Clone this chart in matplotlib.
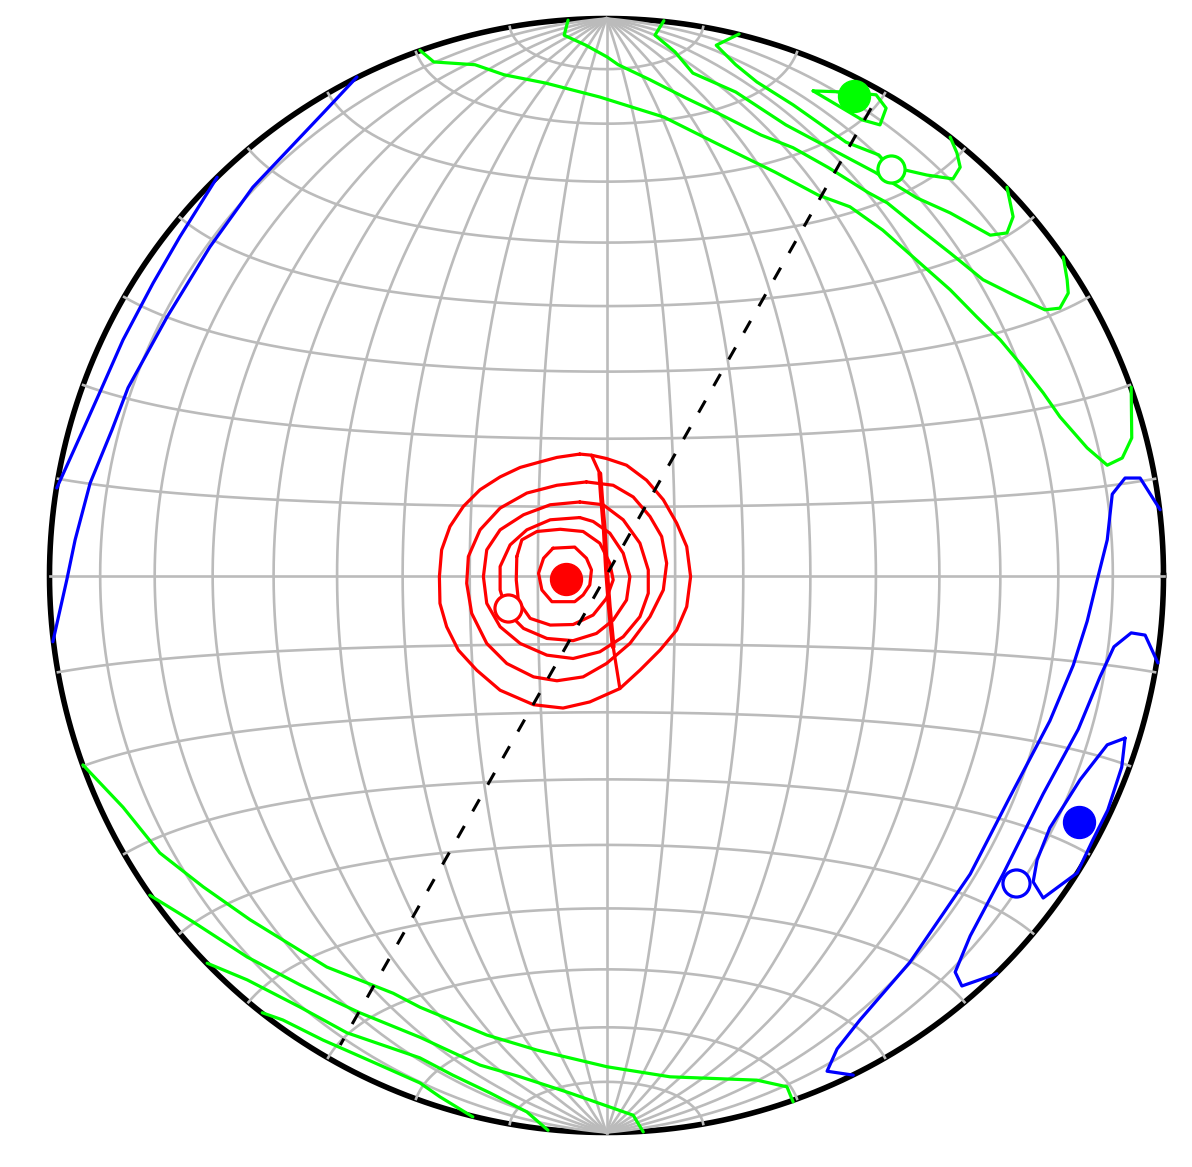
import numpy as np
import matplotlib.pyplot as plt

# All positions are in net coordinates (unit circle, equal-area projection)

# red cluster: density contours (closed), a seam line and the two centres
red_c1 = [(-0.048, 0.218), (-0.089, 0.212), (-0.119, 0.204), (-0.155, 0.194), (-0.191, 0.177),
          (-0.227, 0.154), (-0.257, 0.124), (-0.281, 0.088), (-0.296, 0.046), (-0.300, -0.002),
          (-0.299, -0.050), (-0.287, -0.092), (-0.266, -0.134), (-0.233, -0.170), (-0.191, -0.206),
          (-0.131, -0.232), (-0.078, -0.238), (-0.030, -0.227), (0.024, -0.203), (0.060, -0.170),
          (0.096, -0.134), (0.126, -0.098), (0.144, -0.056), (0.151, -0.002), (0.144, 0.052),
          (0.126, 0.094), (0.102, 0.136), (0.072, 0.171), (0.036, 0.198), (0.000, 0.210),
          (-0.027, 0.216)]
red_c2 = [(-0.036, 0.168), (-0.089, 0.162), (-0.143, 0.148), (-0.191, 0.121), (-0.227, 0.082),
          (-0.248, 0.034), (-0.251, -0.014), (-0.242, -0.068), (-0.215, -0.122), (-0.179, -0.158),
          (-0.131, -0.182), (-0.089, -0.189), (-0.042, -0.182), (0.000, -0.158), (0.042, -0.122),
          (0.078, -0.074), (0.102, -0.026), (0.108, 0.022), (0.099, 0.070), (0.078, 0.106),
          (0.048, 0.141), (0.012, 0.162)]
red_c3 = [(-0.048, 0.132), (-0.101, 0.127), (-0.149, 0.109), (-0.191, 0.082), (-0.215, 0.046),
          (-0.221, -0.002), (-0.215, -0.050), (-0.191, -0.092), (-0.155, -0.122), (-0.107, -0.143),
          (-0.060, -0.149), (-0.012, -0.137), (0.030, -0.110), (0.060, -0.074), (0.075, -0.032),
          (0.075, 0.010), (0.060, 0.058), (0.030, 0.100), (-0.006, 0.127)]
red_c4 = [(-0.048, 0.104), (-0.101, 0.100), (-0.143, 0.082), (-0.173, 0.055), (-0.191, 0.016),
          (-0.191, -0.026), (-0.179, -0.065), (-0.149, -0.095), (-0.107, -0.113), (-0.060, -0.117),
          (-0.018, -0.104), (0.012, -0.080), (0.036, -0.044), (0.042, -0.002), (0.030, 0.040),
          (0.006, 0.076), (-0.024, 0.097)]
red_c5 = [(-0.161, 0.034), (-0.152, 0.064), (-0.125, 0.079), (-0.083, 0.083), (-0.042, 0.079),
          (-0.012, 0.058), (0.006, 0.022), (0.012, -0.008), (0.000, -0.041), (-0.024, -0.071),
          (-0.060, -0.088), (-0.101, -0.089), (-0.137, -0.077), (-0.158, -0.047), (-0.162, -0.008)]
red_c6 = [(-0.096, 0.049), (-0.057, 0.051), (-0.036, 0.031), (-0.027, 0.010), (-0.030, -0.017),
          (-0.042, -0.035), (-0.057, -0.047), (-0.098, -0.047), (-0.116, -0.026), (-0.122, 0.004),
          (-0.113, 0.031)]
red_seam = [(-0.027, 0.216), (-0.012, 0.183), (-0.009, 0.141), (-0.004, 0.082), (0.000, 0.010),
            (0.005, -0.056), (0.012, -0.128), (0.024, -0.203)]
red_mean = (-0.073, -0.006)
red_open = (-0.176, -0.059)

# green cluster: contours wrapping over the primitive (upper right / lower left)
green_a = [(-0.335, 0.943), (-0.310, 0.922), (-0.236, 0.917), (-0.184, 0.899), (-0.109, 0.884),
           (-0.012, 0.859), (0.103, 0.823), (0.193, 0.778), (0.303, 0.724), (0.380, 0.683),
           (0.437, 0.662), (0.496, 0.620), (0.557, 0.566), (0.617, 0.513), (0.665, 0.464),
           (0.707, 0.423), (0.748, 0.374), (0.784, 0.328), (0.814, 0.285), (0.863, 0.229),
           (0.899, 0.198), (0.926, 0.211), (0.943, 0.247), (0.942, 0.338)]
green_b = [(-0.069, 0.997), (-0.076, 0.970), (-0.037, 0.952), (0.001, 0.931), (0.021, 0.917),
           (0.078, 0.890), (0.143, 0.857), (0.206, 0.827), (0.277, 0.791), (0.335, 0.768),
           (0.399, 0.732), (0.469, 0.688), (0.504, 0.669), (0.557, 0.626), (0.617, 0.579),
           (0.676, 0.531), (0.730, 0.504), (0.787, 0.477), (0.814, 0.480), (0.829, 0.507),
           (0.827, 0.531), (0.820, 0.572)]
green_c = [(0.103, 0.996), (0.087, 0.970), (0.123, 0.940), (0.155, 0.902), (0.232, 0.868),
           (0.322, 0.809), (0.399, 0.768), (0.482, 0.724), (0.557, 0.678), (0.617, 0.651),
           (0.689, 0.611), (0.719, 0.615), (0.730, 0.644), (0.719, 0.697)]
green_d = [(0.238, 0.972), (0.197, 0.952), (0.232, 0.917), (0.270, 0.886), (0.335, 0.845),
           (0.430, 0.778), (0.489, 0.755), (0.511, 0.730), (0.536, 0.728), (0.575, 0.719),
           (0.622, 0.712), (0.635, 0.733), (0.629, 0.759), (0.617, 0.787)]
green_e = [(0.371, 0.870), (0.428, 0.868), (0.484, 0.863), (0.502, 0.839), (0.491, 0.809),
           (0.459, 0.818)]
green_a2 = [(-0.940, -0.340), (-0.868, -0.416), (-0.802, -0.498), (-0.724, -0.559), (-0.640, -0.618),
            (-0.502, -0.703), (-0.383, -0.750), (-0.335, -0.775), (-0.215, -0.825), (-0.125, -0.852),
            (0.001, -0.882), (0.114, -0.900), (0.270, -0.906), (0.324, -0.918), (0.335, -0.945)]
green_b2 = [(-0.820, -0.574), (-0.742, -0.622), (-0.645, -0.685), (-0.550, -0.735), (-0.443, -0.785),
            (-0.335, -0.829), (-0.227, -0.879), (-0.155, -0.900), (-0.066, -0.929), (0.048, -0.969),
            (0.066, -0.999)]
green_c2 = [(-0.717, -0.696), (-0.645, -0.726), (-0.550, -0.775), (-0.466, -0.821), (-0.335, -0.866),
            (-0.276, -0.897), (-0.209, -0.929), (-0.143, -0.963), (-0.105, -0.996)]
green_d2 = [(-0.618, -0.785), (-0.581, -0.798), (-0.509, -0.834), (-0.416, -0.875), (-0.335, -0.911),
            (-0.299, -0.936), (-0.240, -0.972)]
green_mean = (0.444, 0.861)
green_open = (0.511, 0.730)

# blue cluster
blue_a = [(0.994, 0.118), (0.958, 0.175), (0.931, 0.175), (0.908, 0.146), (0.899, 0.064),
          (0.881, -0.008), (0.863, -0.082), (0.838, -0.161), (0.796, -0.261), (0.724, -0.398),
          (0.653, -0.536), (0.545, -0.694), (0.455, -0.798), (0.414, -0.850), (0.396, -0.890),
          (0.443, -0.897)]
blue_b = [(0.990, -0.157), (0.967, -0.107), (0.942, -0.103), (0.911, -0.128), (0.886, -0.182),
          (0.847, -0.276), (0.784, -0.392), (0.712, -0.536), (0.653, -0.647), (0.626, -0.712),
          (0.638, -0.737), (0.701, -0.715)]
blue_c = [(0.931, -0.292), (0.899, -0.304), (0.850, -0.367), (0.796, -0.453), (0.773, -0.511),
          (0.766, -0.550), (0.784, -0.579), (0.845, -0.534), (0.873, -0.475), (0.900, -0.421),
          (0.925, -0.344)]
blue_a2 = [(-0.448, 0.895), (-0.509, 0.830), (-0.635, 0.697), (-0.712, 0.590), (-0.789, 0.464),
           (-0.859, 0.337), (-0.888, 0.261), (-0.927, 0.166), (-0.954, 0.064), (-0.969, -0.008),
           (-0.994, -0.119)]
blue_b2 = [(-0.699, 0.715), (-0.766, 0.608), (-0.814, 0.525), (-0.868, 0.423), (-0.906, 0.337),
           (-0.940, 0.261), (-0.987, 0.157)]
blue_mean = (0.848, -0.443)
blue_open = (0.735, -0.552)

# dashed great-circle trace
dash_x = [0.475, -0.478]
dash_y = [0.839, -0.843]


def project(lon, lat):
    # Lambert azimuthal equal-area, scaled to a unit primitive circle
    lon = np.radians(lon)
    lat = np.radians(lat)
    k = np.sqrt(1.0 / (1.0 + np.cos(lat) * np.cos(lon)))
    return k * np.cos(lat) * np.sin(lon), k * np.sin(lat)


def draw(ax, pts, color, closed=False, lw=2.3):
    xs = [p[0] for p in pts]
    ys = [p[1] for p in pts]
    if closed:
        xs.append(xs[0])
        ys.append(ys[0])
    ax.plot(xs, ys, color=color, lw=lw, zorder=3,
            solid_joinstyle='round', solid_capstyle='round')


fig = plt.figure(figsize=(11.92, 11.67), dpi=100)
ax = fig.add_axes([0, 0, 1, 1])

# place the net: centre at (606.5, 575.5) px, radius 557 px
cx, cy, rad = 606.5, 575.5, 557.0
ax.set_xlim(-cx / rad, (1192 - cx) / rad)
ax.set_ylim(-(1167 - cy) / rad, cy / rad)
ax.axis('off')

# primitive circle
t = np.linspace(0, 2 * np.pi, 721)
ax.plot(np.cos(t), np.sin(t), color='black', lw=4.0, zorder=1)

# 10 degree graticule
grid_color = '#bbbbbb'
lat = np.linspace(-90, 90, 721)
for lon in range(-80, 81, 10):
    gx, gy = project(np.full_like(lat, lon), lat)
    ax.plot(gx, gy, color=grid_color, lw=1.9, zorder=2)
lon = np.linspace(-90, 90, 721)
for la in range(-80, 81, 10):
    gx, gy = project(lon, np.full_like(lon, la))
    ax.plot(gx, gy, color=grid_color, lw=1.9, zorder=2)

for c in [red_c1, red_c2, red_c3, red_c4, red_c5, red_c6]:
    draw(ax, c, 'red', closed=True)
draw(ax, red_seam, 'red')
draw(ax, red_seam[1:7], 'red', lw=3.5)

for c in [green_a, green_b, green_c, green_d, green_a2, green_b2, green_c2, green_d2]:
    draw(ax, c, 'lime')
draw(ax, green_e, 'lime', closed=True)

for c in [blue_a, blue_b, blue_a2, blue_b2]:
    draw(ax, c, 'blue')
draw(ax, blue_c, 'blue', closed=True)

ax.plot(dash_x, dash_y, color='black', lw=2.2, dashes=(4.5, 5.5), zorder=4)

for col, mean, opn in [('red', red_mean, red_open),
                       ('lime', green_mean, green_open),
                       ('blue', blue_mean, blue_open)]:
    ax.plot(mean[0], mean[1], 'o', ms=23, mfc=col, mec=col, mew=1, zorder=5)
    ax.plot(opn[0], opn[1], 'o', ms=19.5, mfc='white', mec=col, mew=2.3, zorder=5)

fig.savefig('out.png', dpi=100)
